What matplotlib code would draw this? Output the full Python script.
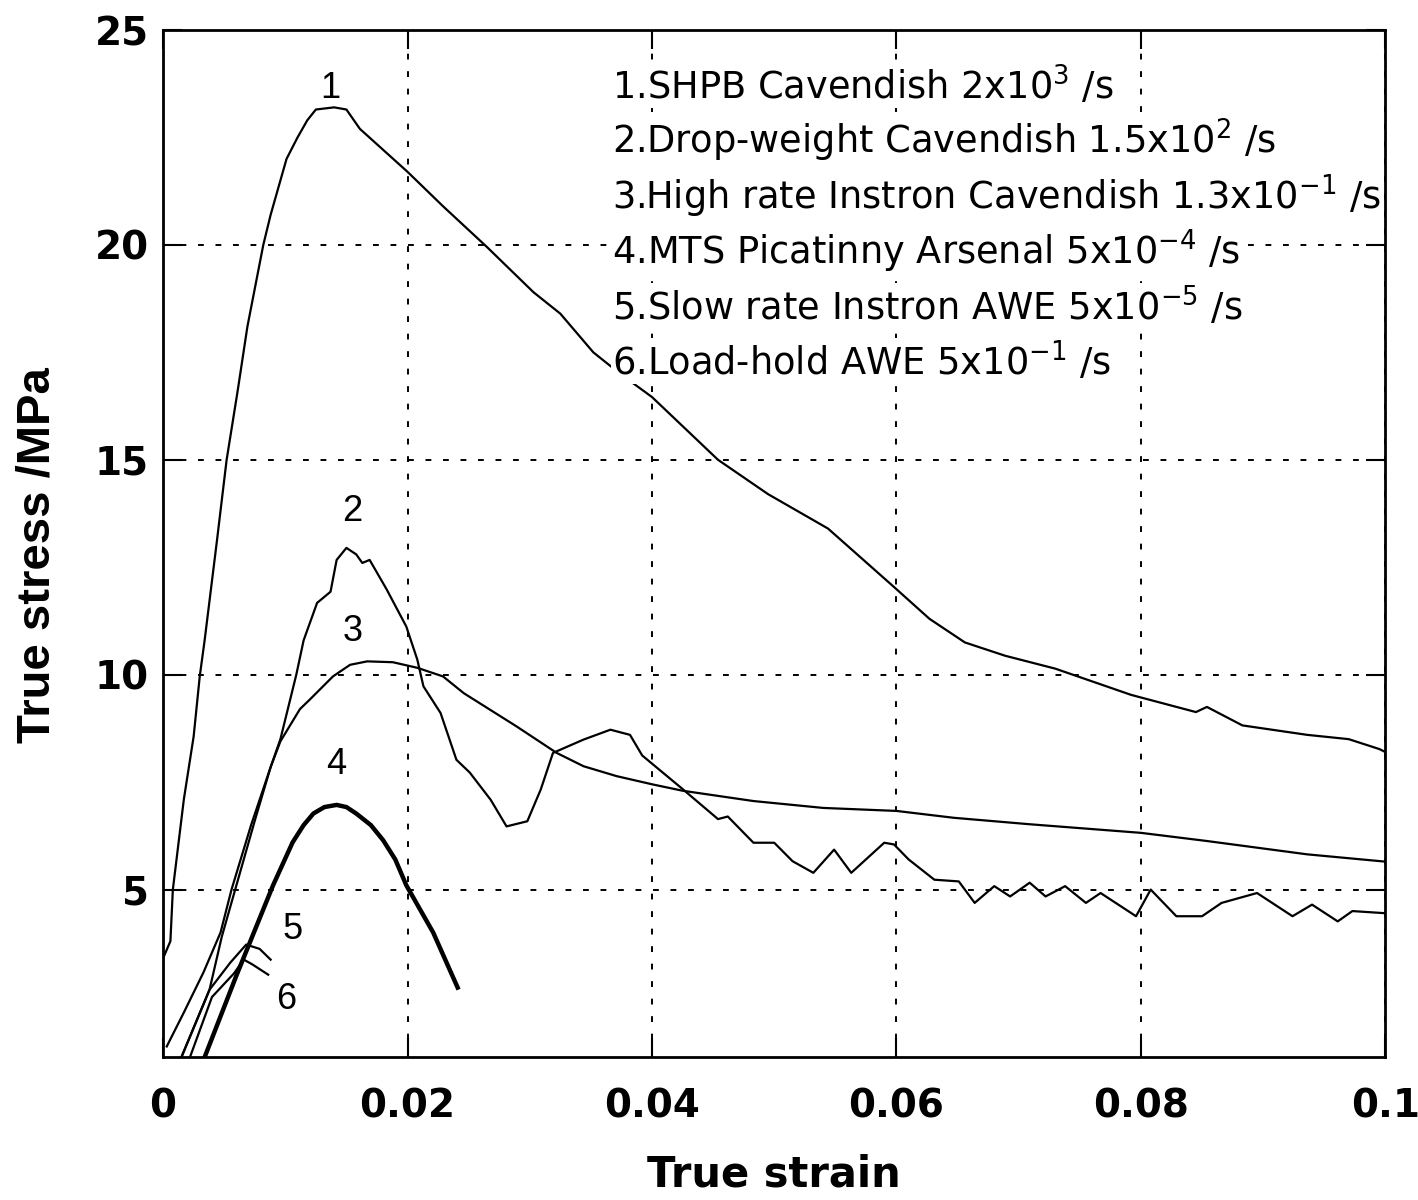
import matplotlib
matplotlib.use("Agg")
from matplotlib import pyplot as plt

# curve 1: SHPB Cavendish
strain_1 = [0.0, 0.0, 0.0006, 0.0008, 0.0017, 0.0025, 0.0030, 0.0034, 0.0044, 0.0052,
            0.0061, 0.0069, 0.0082, 0.0088, 0.0101, 0.0110, 0.0118, 0.0125, 0.0140, 0.0150,
            0.0161, 0.0200, 0.0229, 0.0265, 0.0303, 0.0325, 0.0352, 0.0374, 0.0400, 0.0454,
            0.0495, 0.0544, 0.0598, 0.0627, 0.0656, 0.0689, 0.0730, 0.0792, 0.0845,
            0.0854, 0.0883, 0.0936, 0.0970, 0.0995, 0.1000]
stress_1 = [2.5, 3.4, 3.8, 5.0, 7.1, 8.56, 9.96, 10.8, 13.1, 15.0,
            16.6, 18.1, 20.0, 20.7, 22.0, 22.5, 22.9, 23.15, 23.2, 23.15,
            22.7, 21.7, 20.9, 19.95, 18.9, 18.4, 17.5, 17.0, 16.46, 15.0,
            14.2, 13.4, 12.04, 11.3, 10.75, 10.44, 10.14, 9.53, 9.13,
            9.25, 8.82, 8.6, 8.5, 8.27, 8.2]

# curve 2: drop-weight Cavendish
strain_2 = [0.0015, 0.0038, 0.0048, 0.0061, 0.0075, 0.0088, 0.0096, 0.0109, 0.0115, 0.0126,
            0.0137, 0.0142, 0.0150, 0.0158, 0.0163, 0.0169, 0.0183, 0.0199, 0.0208, 0.0213,
            0.0227, 0.0240, 0.0251, 0.0268, 0.0281, 0.0298, 0.0309, 0.0319, 0.0344, 0.0366,
            0.0382, 0.0392, 0.0425, 0.0454, 0.0462, 0.0483, 0.0500, 0.0515, 0.0532, 0.0549,
            0.0563, 0.0590, 0.0598, 0.0610, 0.0631, 0.0651, 0.0664, 0.0680, 0.0693, 0.0709,
            0.0722, 0.0738, 0.0755, 0.0767, 0.0796, 0.0808, 0.0829, 0.0850, 0.0866, 0.0895,
            0.0924, 0.0940, 0.0961, 0.0973, 0.1000]
stress_2 = [1.1, 2.67, 3.9, 5.2, 6.6, 7.85, 8.5, 10.0, 10.8, 11.67,
            11.93, 12.67, 12.95, 12.8, 12.6, 12.67, 11.98, 11.12, 10.35, 9.73,
            9.11, 8.02, 7.72, 7.09, 6.47, 6.59, 7.33, 8.18, 8.49, 8.72,
            8.6, 8.12, 7.34, 6.64, 6.7, 6.09, 6.09, 5.66, 5.39, 5.93,
            5.39, 6.09, 6.05, 5.7, 5.23, 5.19, 4.69, 5.08, 4.84, 5.16,
            4.84, 5.08, 4.69, 4.92, 4.38, 5.0, 4.38, 4.38, 4.69, 4.92,
            4.38, 4.65, 4.26, 4.5, 4.45]

# curve 3: high rate Instron Cavendish
strain_3 = [0.0003, 0.0017, 0.0033, 0.0047, 0.0056, 0.0072, 0.0088, 0.0096, 0.0112, 0.0120,
            0.0139, 0.0153, 0.0167, 0.0188, 0.0208, 0.0229, 0.0246, 0.0289, 0.0322, 0.0344,
            0.0371, 0.0400, 0.0425, 0.0483, 0.0540, 0.0600, 0.0647, 0.0709, 0.0800, 0.0854,
            0.0936, 0.1000]
stress_3 = [1.35, 2.14, 3.07, 4.0, 5.0, 6.5, 7.85, 8.45, 9.2, 9.42,
            9.96, 10.23, 10.31, 10.29, 10.16, 9.96, 9.57, 8.8, 8.18, 7.87,
            7.64, 7.45, 7.3, 7.06, 6.9, 6.83, 6.67, 6.52, 6.32, 6.13,
            5.82, 5.65]

# curve 4: MTS Picatinny Arsenal
strain_4 = [0.0034, 0.0060, 0.0090, 0.0106, 0.0115, 0.0123, 0.0132, 0.0142, 0.0150, 0.0158,
            0.0170, 0.0180, 0.0190, 0.0199, 0.0221, 0.0241]
stress_4 = [1.1, 3.0, 5.1, 6.1, 6.5, 6.77, 6.92, 6.97, 6.92, 6.77,
            6.5, 6.15, 5.7, 5.1, 4.0, 2.72]

# curve 5: slow rate Instron AWE
strain_5 = [0.0015, 0.0038, 0.0055, 0.0068, 0.0079, 0.0088]
stress_5 = [1.1, 2.67, 3.3, 3.72, 3.62, 3.37]

# curve 6: load-hold AWE
strain_6 = [0.0022, 0.0040, 0.0058, 0.0066, 0.0073, 0.0086]
stress_6 = [1.1, 2.5, 3.05, 3.37, 3.26, 3.02]

legend_lines = [r"1.SHPB Cavendish 2x10$^{3}$ /s",
                r"2.Drop-weight Cavendish 1.5x10$^{2}$ /s",
                r"3.High rate Instron Cavendish 1.3x10$^{-1}$ /s",
                r"4.MTS Picatinny Arsenal 5x10$^{-4}$ /s",
                r"5.Slow rate Instron AWE 5x10$^{-5}$ /s",
                r"6.Load-hold AWE 5x10$^{-1}$ /s"]

fig = plt.figure(figsize=(14.18, 12), dpi=100)
ax = fig.add_axes([0.115, 0.119, 0.862, 0.856])

ax.plot(strain_1, stress_1, color='black', lw=1.6)
ax.plot(strain_2, stress_2, color='black', lw=1.6)
ax.plot(strain_3, stress_3, color='black', lw=1.6)
ax.plot(strain_4, stress_4, color='black', lw=3.2)
ax.plot(strain_5, stress_5, color='black', lw=1.6)
ax.plot(strain_6, stress_6, color='black', lw=1.6)

sans = ['Liberation Sans', 'DejaVu Sans']
for lab, x, y in [("1", 0.0137, 23.65), ("2", 0.0155, 13.8), ("3", 0.0155, 11.0),
                  ("4", 0.0142, 7.9), ("5", 0.0106, 4.07), ("6", 0.0101, 2.44)]:
    ax.text(x, y, lab, fontsize=26, family=sans, ha='center', va='center')

for i, line in enumerate(legend_lines):
    ax.text(0.0367, 23.7 - i * 1.28, line, fontsize=26.5, family='DejaVu Sans',
            ha='left', va='center', zorder=5,
            bbox=dict(facecolor='white', edgecolor='none', pad=0.5))

ax.set_xlim(0, 0.1)
ax.set_ylim(1.1, 25)
ax.set_xticks([0, 0.02, 0.04, 0.06, 0.08, 0.1])
ax.set_xticklabels(["0", "0.02", "0.04", "0.06", "0.08", "0.1"])
ax.set_yticks([5, 10, 15, 20, 25])
ax.grid(True, color='black', linestyle=(0, (3, 6)), linewidth=1.4)
ax.tick_params(direction='in', top=True, right=True, length=14, width=1.5,
               labelsize=28)
ax.tick_params(axis='x', pad=22)
ax.tick_params(axis='y', pad=10)
for t in ax.get_xticklabels() + ax.get_yticklabels():
    t.set_fontweight('bold')
for s in ax.spines.values():
    s.set_linewidth(2)

ax.set_xlabel("True strain", fontsize=30, fontweight='bold', labelpad=20)
ax.set_ylabel("True stress /MPa", fontsize=34, fontweight='bold', family=sans,
              va='center')
ax.yaxis.set_label_coords(-0.103, 0.489)

fig.savefig("out.png", dpi=100)
